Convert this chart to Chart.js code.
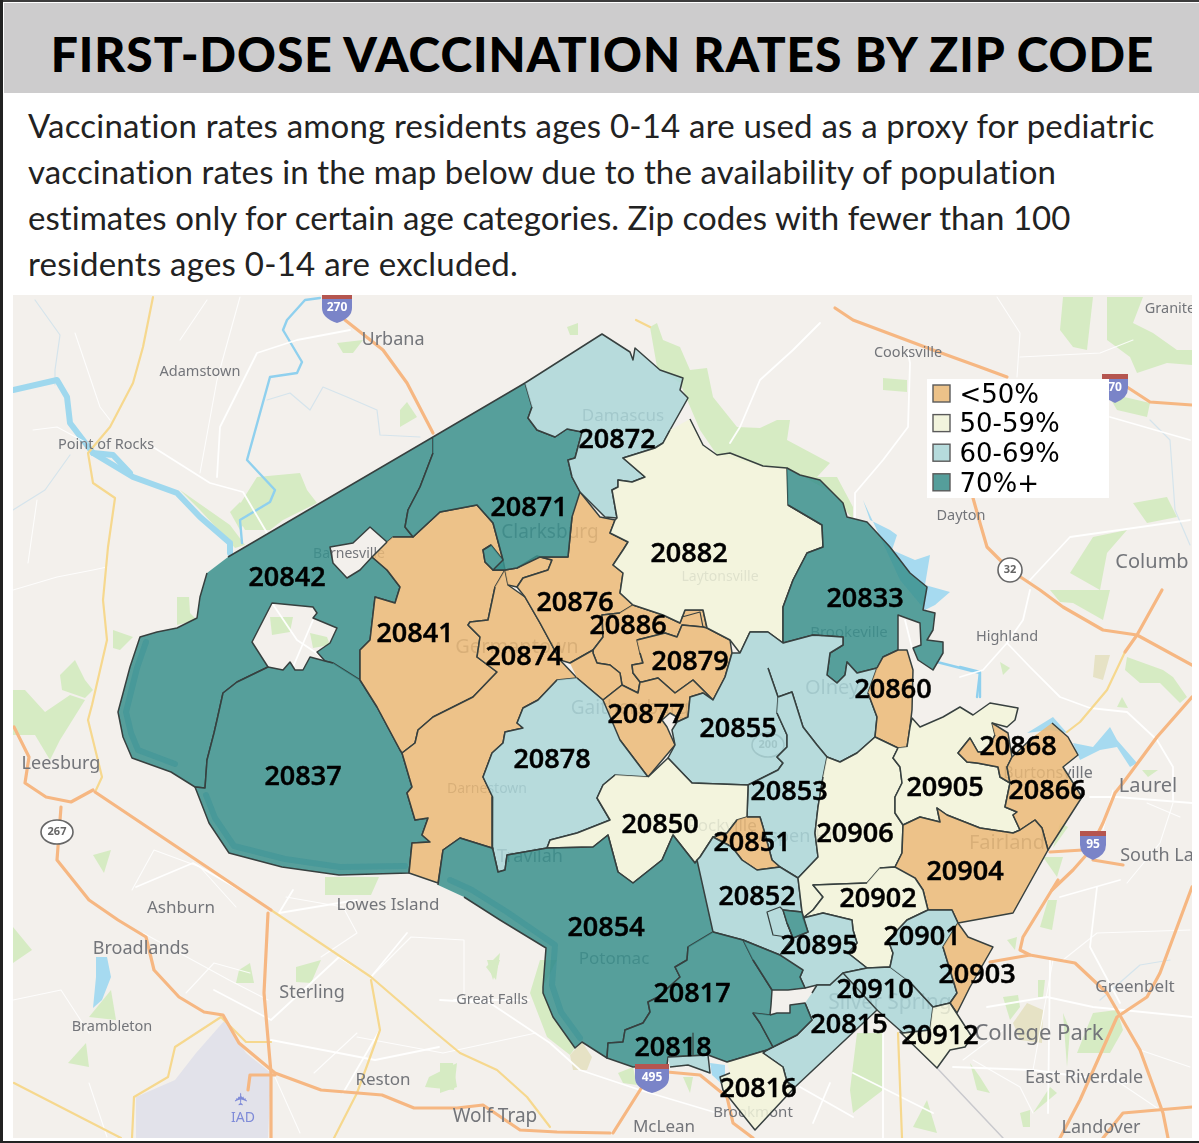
<!DOCTYPE html>
<html>
<head>
<meta charset="utf-8">
<title>First-dose vaccination rates by zip code</title>
<script src="https://cdn.jsdelivr.net/npm/chart.js@4"></script>
<style>
  html, body { margin: 0; padding: 0; background: #fff; overflow: hidden; }
  #page { position: relative; width: 1199px; height: 1143px; background: #fff; }
  #frameTop { position: absolute; left: 0; top: 0; width: 1199px; height: 2px; background: #3c3c3c; }
  #frameLeft { position: absolute; left: 0; top: 0; width: 3px; height: 1143px; background: #222; }
  #frameBottom { position: absolute; left: 0; top: 1141px; width: 1199px; height: 2px; background: #222; }
  #band { position: absolute; left: 4px; top: 3px; width: 1195px; height: 90px; background: #cdcccd; }
  h1 { position: absolute; left: 0; top: 24px; width: 1205px; margin: 0; text-align: center; font: 900 48px Lato, sans-serif; letter-spacing: 0.93px; font-variant-ligatures: none; color: #000; white-space: nowrap; line-height: 60px; }
  #intro { position: absolute; left: 28px; top: 102px; font: 400 33px/46px Lato, sans-serif; font-variant-ligatures: none; color: #222; white-space: nowrap; }
  #intro span { display: block; }
  #mapBox { position: absolute; left: 13px; top: 295px; width: 1179px; height: 843px; }
  #mapChart { display: block; background: #f3f0ec; filter: blur(0.4px); }
</style>
</head>
<body>
<div id="page">
  <div id="band"></div>
  <div id="frameTop"></div>
  <div id="frameLeft"></div>
  <div id="frameBottom"></div>
  <h1>FIRST-DOSE VACCINATION RATES BY ZIP CODE</h1>
  <div id="intro">
    <span style="letter-spacing:.19px">Vaccination rates among residents ages 0-14 are used as a proxy for pediatric</span>
    <span style="letter-spacing:.12px">vaccination rates in the map below due to the availability of population</span>
    <span style="letter-spacing:.05px">estimates only for certain age categories. Zip codes with fewer than 100</span>
    <span style="letter-spacing:.25px">residents ages 0-14 are excluded.</span>
  </div>
  <div id="mapBox"><canvas id="mapChart" width="1179" height="843"></canvas></div>
</div>
<script>
// legend bands
const bandLabels = ['<50%', '50-59%', '60-69%', '70%+'];
const bandFills = ['rgba(235,186,120,.85)', 'rgba(242,245,218,.85)', 'rgba(171,215,217,.85)', 'rgba(57,144,141,.85)'];
const bandSwatches = ['#ecc289', '#f2f4dd', '#b6dbdc', '#559e9b'];

// zip labels
const zipCodes = ['20842','20837','20841','20874','20871','20872','20882','20833','20876','20886','20879','20877','20878','20855','20860','20868','20905','20866','20853','20850','20851','20906','20904','20852','20902','20895','20901','20854','20903','20910','20817','20815','20912','20818','20816'];
const zipX = [287,303,415,524,529,617,689,865,575,628,690,646,552,738,893,1018,945,1047,789,660,752,855,965,757,878,819,922,606,977,875,692,849,940,673,758];
const zipY = [576,775,632,655,506,438,552,597,601,624,660,713,758,727,688,745,786,789,790,823,841,832,870,895,897,944,935,926,973,988,992,1023,1034,1046,1087];

const shapeBands = [3,3,0,3,0,0,0,0,0,0,0,3,2,1,3,2,2,2,2,1,0,2,0,1,1,0,0,0,1,2,2,3,2,3,3,3,3,2,2,0,1,1];
const shapeOutlines = [
  [228,557, 433,437, 433,453, 420,487, 408,510, 405,527, 413,537, 393,537, 387,542, 370,527, 353,543, 330,547, 333,563, 347,578, 360,570, 372,557, 387,570, 400,587, 395,603, 375,597, 370,640, 360,650, 360,680, 333,663, 325,661, 317,652, 330,643, 337,628, 313,618, 317,613, 313,607, 272,603, 252,642, 268,667, 237,682, 223,693, 217,720, 214,733, 207,760, 205,788, 195,787, 171,772, 132,758, 123,737, 118,712, 130,667, 140,637, 157,632, 177,628, 197,618, 200,597, 207,573],
  [360,680, 377,707, 400,750, 402,753, 412,787, 407,793, 415,820, 428,818, 422,835, 430,842, 412,843, 409,873, 339,875, 282,867, 229,853, 209,823, 195,787, 205,788, 207,760, 214,733, 217,720, 223,693, 237,682, 268,667, 283,670, 290,662, 295,670, 303,670, 310,657, 325,661, 333,663],
  [393,537, 413,537, 440,512, 477,505, 493,523, 503,560, 491,545, 483,550, 485,562, 493,570, 505,570, 495,587, 488,620, 470,622, 468,625, 480,637, 477,657, 497,672, 473,697, 433,717, 418,730, 415,743, 402,753, 400,750, 377,707, 360,680, 360,650, 370,640, 375,597, 395,603, 400,587, 387,570, 372,557, 387,542],
  [491,545, 483,550, 485,562, 493,570, 505,570, 503,560],
  [505,570, 508,585, 525,597, 540,623, 560,660, 577,678, 557,680, 538,700, 523,708, 517,723, 523,728, 505,732, 503,743, 492,753, 483,777, 493,797, 492,848, 460,838, 443,850, 438,883, 409,873, 412,843, 430,842, 422,835, 428,818, 415,820, 407,793, 412,787, 402,753, 415,743, 418,730, 433,717, 473,697, 497,672, 477,657, 480,637, 468,625, 470,622, 488,620, 495,587],
  [505,570, 517,568, 537,556, 552,560, 548,570, 523,578, 517,587, 508,585],
  [580,492, 600,517, 615,520, 610,533, 628,542, 623,550, 613,565, 623,573, 620,593, 633,605, 620,613, 602,615, 603,637, 593,650, 570,663, 560,660, 540,623, 525,597, 517,587, 523,578, 548,570, 552,560, 540,557, 568,557, 572,517],
  [633,605, 663,615, 680,623, 685,610, 703,610, 707,628, 703,627, 682,625, 677,637, 665,633, 637,640, 640,653, 643,663, 632,665, 633,673, 640,682, 638,693, 622,685, 620,673, 610,665, 597,663, 593,653, 593,650, 603,637, 602,615, 620,613],
  [637,640, 665,633, 677,637, 682,625, 703,627, 707,628, 730,640, 732,653, 725,677, 713,700, 693,680, 675,693, 658,678, 642,682, 640,682, 633,673, 632,665, 643,663, 640,653],
  [570,663, 593,650, 593,653, 597,663, 610,665, 620,673, 622,685, 603,700, 577,678],
  [603,700, 622,685, 638,693, 640,682, 642,682, 658,678, 675,693, 693,680, 713,700, 703,693, 690,697, 688,717, 677,722, 677,717, 670,713, 662,720, 667,727, 675,745, 648,777, 620,740],
  // 20871
  [433,437, 525,383, 532,407, 528,418, 537,430, 555,437, 567,429, 582,432, 575,458, 568,460, 572,477, 580,492, 572,517, 568,557, 540,557, 517,568, 505,570, 493,570, 503,560, 493,523, 477,505, 440,512, 413,537, 405,527, 408,510, 420,487, 433,453],
  // 20872
  [525,383, 602,334, 630,352, 633,360, 635,348, 660,370, 683,378, 680,390, 688,398, 670,430, 663,443, 655,448, 623,458, 645,477, 632,482, 618,480, 618,487, 612,490, 617,518, 605,517, 580,492, 572,477, 568,460, 575,458, 582,432, 567,429, 555,437, 537,430, 528,418, 532,407],
  // 20882
  [690,419, 703,445, 717,455, 730,453, 763,466, 787,468, 788,505, 822,525, 823,547, 807,553, 793,580, 783,607, 783,643, 768,632, 750,632, 740,653, 730,640, 707,628, 703,610, 685,610, 680,623, 663,615, 633,605, 620,593, 623,573, 613,565, 623,550, 628,542, 610,533, 615,520, 617,518, 612,490, 618,487, 618,480, 632,482, 645,477, 623,458, 655,448, 663,443, 670,430],
  // 20833
  [787,468, 800,475, 820,480, 843,503, 847,517, 867,522, 890,547, 910,573, 927,587, 923,610, 935,613, 933,630, 927,640, 943,642, 943,653, 933,670, 918,660, 913,648, 921,645, 920,623, 898,615, 898,650, 883,657, 877,668, 857,673, 847,662, 845,675, 837,683, 827,675, 830,653, 843,645, 843,637, 813,635, 783,643, 783,607, 793,580, 807,553, 823,547, 822,525, 788,505],
  // olney
  [768,632, 783,643, 813,635, 843,637, 843,645, 830,653, 827,675, 837,683, 845,675, 847,662, 857,673, 877,668, 868,693, 877,717, 875,737, 857,753, 840,762, 827,757, 817,745, 803,727, 792,692, 778,697, 768,668],
  // 20855
  [768,632, 750,632, 740,653, 732,653, 725,677, 713,700, 703,693, 690,697, 688,717, 677,722, 672,730, 675,745, 668,758, 692,783, 748,785, 778,770, 783,763, 777,757, 787,747, 787,735, 777,713, 778,697, 768,668],
  // 20853
  [778,697, 792,692, 803,727, 817,745, 827,757, 823,777, 818,807, 815,833, 818,857, 798,878, 780,867, 772,860, 763,827, 760,817, 747,817, 748,788, 748,785, 778,770, 783,763, 777,757, 787,747, 787,735, 777,713],
  // 20878
  [577,678, 603,700, 620,740, 648,777, 615,775, 603,785, 597,798, 610,820, 577,833, 550,840, 547,848, 507,855, 505,870, 498,872, 493,850, 492,848, 493,797, 483,777, 492,753, 503,743, 505,732, 523,728, 517,723, 523,708, 538,700, 557,680],
  // 20850
  [648,777, 668,758, 692,783, 748,785, 748,788, 747,817, 737,820, 727,833, 713,837, 700,857, 695,863, 673,835, 662,860, 633,883, 618,872, 608,835, 593,847, 547,848, 550,840, 577,833, 610,820, 597,798, 603,785, 615,775],
  // 20851
  [747,817, 760,817, 763,827, 772,860, 780,867, 757,870, 742,860, 732,847, 713,837, 727,833, 737,820],
  // 20852
  [697,860, 700,857, 713,837, 732,847, 742,860, 757,870, 780,867, 798,878, 802,912, 783,910, 787,923, 793,938, 780,955, 743,940, 713,932],
  // 20860
  [877,668, 883,657, 898,650, 907,650, 913,670, 912,710, 910,727, 907,747, 898,748, 875,737, 877,717, 868,693],
  // 20906
  [827,757, 840,762, 857,753, 875,737, 898,748, 893,758, 900,767, 902,783, 895,797, 895,813, 903,825, 902,853, 895,867, 880,868, 867,883, 813,885, 823,897, 813,910, 803,918, 802,912, 798,878, 818,857, 815,833, 818,807, 823,777],
  // 20905
  [907,747, 910,727, 912,718, 920,727, 943,717, 960,707, 973,715, 990,703, 1018,708, 1015,720, 1007,727, 992,723, 995,735, 990,745, 985,752, 978,752, 970,738, 958,753, 967,762, 977,763, 998,767, 1000,777, 1010,783, 1005,807, 1017,812, 1013,815, 1020,830, 1013,833, 980,828, 947,815, 937,808, 940,822, 920,817, 903,825, 895,813, 895,797, 902,783, 900,767, 893,758, 898,748],
  // 20868
  [992,723, 1008,733, 1012,757, 1007,767, 1010,783, 1000,777, 998,767, 977,763, 967,762, 958,753, 970,738, 978,752, 985,752, 990,745, 995,735],
  // 20866
  [1052,723, 1068,737, 1078,755, 1063,767, 1082,797, 1048,850, 1042,828, 1035,820, 1020,830, 1013,815, 1017,812, 1005,807, 1010,783, 1007,767, 1012,757, 1033,737],
  // 20904
  [895,867, 902,853, 903,825, 920,817, 940,822, 937,808, 947,815, 980,828, 1013,833, 1020,830, 1035,820, 1042,828, 1048,850, 1013,913, 958,923, 952,910, 928,910, 923,890, 915,878],
  // 20902
  [880,868, 895,867, 915,878, 923,890, 928,910, 907,920, 888,940, 893,953, 890,967, 867,968, 848,953, 857,943, 853,930, 852,920, 823,913, 803,918, 813,910, 823,897, 813,885, 867,883],
  // 20895
  [780,955, 793,938, 808,932, 803,918, 823,913, 852,920, 853,930, 857,943, 848,953, 867,968, 843,973, 830,985, 817,985, 805,988, 800,977, 803,970],
  // 20910
  [843,973, 867,968, 890,967, 910,982, 933,1007, 930,1030, 903,1033, 877,1010],
  // sliver by 20852
  [783,910, 802,912, 808,932, 793,938, 787,923],
  // 20815
  [812,993, 817,985, 830,985, 843,973, 877,1010, 795,1087, 787,1082, 783,1067, 763,1053, 767,1050, 773,1047, 797,1035, 812,1020, 805,1003],
  // 20854
  [438,885, 443,850, 460,838, 492,848, 493,850, 498,872, 505,870, 507,855, 547,848, 593,847, 608,835, 618,872, 633,883, 662,860, 673,835, 695,863, 697,860, 713,932, 688,947, 687,960, 675,967, 680,977, 658,997, 648,1002, 650,1012, 643,1023, 625,1030, 623,1042, 608,1043, 607,1058, 582,1042, 575,1048, 553,1017, 543,993, 543,987, 546,948, 500,920, 464,897],
  // 20817
  [713,932, 743,940, 753,960, 772,990, 771,1005, 770,1015, 753,1013, 760,1023, 773,1047, 767,1050, 727,1062, 708,1055, 668,1057, 667,1065, 633,1067, 607,1058, 608,1043, 623,1042, 625,1030, 643,1023, 650,1012, 648,1002, 658,997, 680,977, 675,967, 687,960, 688,947],
  // north of the gap
  [743,940, 780,955, 803,970, 800,977, 805,988, 788,990, 772,990, 753,960],
  // south of the gap
  [770,1015, 777,1013, 790,1013, 790,1005, 805,1003, 812,1020, 797,1035, 773,1047, 760,1023, 753,1013],
  // 20818
  [668,1057, 708,1055, 710,1073, 688,1065, 670,1067],
  // 20901
  [890,967, 893,953, 888,940, 907,920, 928,910, 952,910, 958,923, 943,947, 957,993, 950,1003, 933,1007, 910,982],
  // 20903
  [958,923, 968,937, 993,947, 970,987, 957,1013, 950,1003, 957,993, 943,947],
  // 20912
  [933,1007, 950,1003, 972,1037, 965,1047, 950,1050, 937,1068, 900,1032, 903,1033, 930,1030],
  // 20816
  [727,1062, 767,1050, 763,1053, 783,1067, 787,1082, 795,1087, 755,1130, 723,1090, 720,1077, 730,1073]
];
// line-only borders inside a zip area
const innerBorders = [
  [767,912, 780,907, 783,910, 787,923, 793,938, 773,935, 767,912],
  [682,617, 700,612, 703,627],
  [693,1033, 693,1055]
];
// darker band where the river runs under the teal areas
const riverTint = [
  [206,795, 215,818, 234,846, 285,859, 340,867, 405,866],
  [450,880, 472,890, 507,912, 555,945, 552,985, 561,1012, 580,1038],
  [146,642, 137,668, 126,712, 131,733, 138,750, 175,764]
];

// base map
const parks = [
  [337,343, 363,340, 353,353, 343,353], [400,410, 407,402, 417,417, 400,427],
  [257,477, 300,473, 307,490, 317,503, 283,520, 270,530, 245,530, 235,512], [230,512, 240,502, 250,515, 240,530],
  [180,490, 230,525, 245,545, 235,548, 200,510], [177,597, 189,597, 190,613, 197,620, 177,625],
  [113,630, 133,637, 120,650, 113,648], [13,690, 25,690, 45,712, 70,695, 85,700, 60,740, 50,760, 35,735, 13,735],
  [60,675, 75,660, 85,680, 93,690, 85,698, 62,690], [270,617, 293,617, 290,632, 272,635], [310,633, 327,637, 330,645, 313,648],
  [650,327, 657,323, 663,340, 680,347, 690,370, 707,368, 713,397, 737,427, 760,428, 777,420, 790,420, 787,440, 830,463, 817,477, 837,477, 853,507, 853,520, 833,493, 787,468, 763,466, 717,455, 700,430, 680,383, 657,367],
  [567,327, 578,323, 578,335, 570,335], [883,378, 907,380, 907,392, 883,390],
  [1063,297, 1093,297, 1087,350, 1073,347, 1060,330], [1107,297, 1143,297, 1133,323, 1153,333, 1177,350, 1192,350, 1192,365, 1167,363, 1137,373, 1130,357, 1107,340, 1107,310],
  [1107,393, 1150,403, 1147,417, 1117,410], [1133,503, 1167,497, 1177,517, 1147,523], [1070,573, 1093,537, 1127,530, 1107,553, 1100,590],
  [1127,657, 1163,670, 1173,677, 1187,697, 1180,703, 1160,683, 1140,683, 1125,670], [1000,662, 1010,668, 1003,675], [1117,707, 1122,697, 1128,708], [1142,770, 1158,770, 1148,777],
  [1050,590, 1110,590, 1103,620, 1073,603, 1060,602], [1060,823, 1068,827, 1053,848], [1043,857, 1063,857, 1057,877],
  [1048,900, 1057,900, 1052,930, 1040,927], [1007,940, 1017,937, 1015,950], [1038,980, 1045,980, 1043,997, 1038,997], [1003,997, 1018,995, 1020,1007, 1010,1020],
  [1093,1013, 1117,1010, 1123,1030, 1110,1053, 1077,1053], [970,1063, 980,1077, 990,1093, 977,1090], [1050,1087, 1057,1093, 1033,1113], [1020,1113, 1030,1110, 1030,1127, 1023,1127], [1063,1013, 1070,1030, 1067,1067],
  [857,1033, 883,1033, 883,1090, 853,1113, 850,1090], [913,1127, 927,1100, 937,1133],
  [540,960, 557,960, 543,987, 553,1017, 575,1048, 570,1055, 547,1037, 530,993], [618,1073, 633,1067, 637,1085, 623,1083], [683,1077, 693,1077, 690,1093], [440,1063, 453,1063, 457,1087, 440,1093], [487,960, 500,960, 493,980],
  [93,855, 111,850, 104,873], [296,967, 321,960, 311,983, 296,982], [239,970, 250,963, 254,983, 236,983], [325,877, 379,877, 371,895, 325,895], [486,967, 500,953, 496,980],
  [429,1077, 457,1063, 454,1090, 425,1087], [68,1063, 86,1043, 89,1067], [13,927, 32,950, 13,963], [89,1017, 111,990, 116,1020]
];
const tanAreas = [
  [1013,1023, 1027,1003, 1043,1010, 1042,1043, 1020,1040], [570,1055, 582,1042, 592,1057, 587,1070, 573,1070], [1095,655, 1110,655, 1103,680, 1093,677]
];
const airportAreas = [[136,1138, 136,1097, 175,1080, 196,1053, 225,1020, 246,1053, 271,1073, 268,1138]];
const waterAreas = [
  [96,957, 107,957, 111,977, 102,1000, 93,1008, 96,977],
  [1073,743, 1093,747, 1110,727, 1117,740, 1137,763, 1130,767, 1117,747, 1100,750, 1080,760],
  [1027,733, 1053,717, 1067,733, 1050,730],
  [863,500, 870,520, 890,530, 897,535, 892,550, 915,560, 930,555, 925,585, 950,592, 935,605, 925,610, 900,580],
  [710,1063, 725,1065, 725,1077, 723,1085, 712,1075]
];
const rivers = [
  [13,390, 57,380, 67,397, 70,423, 93,453, 133,477, 177,493, 200,517, 230,543, 230,553],
  [93,453, 113,455, 130,473]
];
const streams = [
  [320,298, 305,300, 287,320, 283,330, 302,362, 297,373, 270,377, 247,460, 275,490, 270,502, 240,520, 242,543],
  [937,662, 980,673, 980,697], [960,667, 980,672, 977,697]
];
const faintStreams = [
  [267,400, 290,393, 310,410, 323,387, 347,397, 377,410, 380,435, 420,437], [35,300, 60,335, 55,370, 55,385],
  [13,510, 45,490, 70,455], [1150,420, 1170,440, 1175,510, 1190,545], [1100,1000, 1140,965, 1170,960]
];
const orangeRoads = [
  [345,320, 383,350, 407,383, 433,433],
  [835,308, 853,320, 933,350, 980,367, 1007,377], [1127,387, 1150,402, 1192,405],
  [973,498, 980,523, 987,547, 1010,570, 1040,590, 1063,607, 1103,630, 1137,635, 1192,665],
  [1162,590, 1137,635, 1125,652], [1192,697, 1157,737, 1123,783, 1115,793, 1103,823, 1088,853, 1073,870, 1052,890],
  [1050,852, 1083,850], [1093,860, 1123,865],
  [1058,880, 1023,937, 1020,950, 1030,955, 1075,963, 1107,993, 1140,1050, 1163,1113, 1168,1138], [1030,955, 990,962],
  [1192,887, 1160,973, 1147,997, 1117,1017, 1080,1100, 1060,1138], [1192,1107, 1123,1113, 1103,1138],
  [14,727, 29,757, 25,783, 46,797, 71,802, 93,790], [95,792, 271,910],
  [61,807, 57,860, 89,900, 118,920, 146,937, 154,970, 179,997, 204,1012, 223,1015, 239,1043, 275,1073, 321,1090, 382,1095, 414,1108, 457,1108, 483,1105, 520,1130, 557,1132, 610,1133],
  [642,1087, 613,1133], [667,1072, 700,1075, 727,1097, 733,1123, 753,1138], [268,913, 264,993, 271,1073, 271,1138], [248,1090, 250,1075, 275,1075]
];
const yellowRoads = [
  [153,297, 143,347, 133,383, 110,427, 88,453, 93,483, 115,498, 108,547, 103,600, 107,640, 92,705, 88,720, 102,777, 96,790],
  [271,910, 371,977, 436,1033, 460,1053, 497,1070, 527,1097, 550,1127],
  [14,1083, 121,1138], [132,1138, 134,1097, 168,1077, 175,1047, 221,1017, 246,1042, 271,1042],
  [334,1138, 357,1093, 380,1030, 371,980], [1125,652, 1107,690, 1080,722, 1067,732], [898,1033, 902,1138], [636,320, 650,327]
];
const whiteRoads = [
  [153,447, 210,483, 243,492, 267,533], [217,477, 220,427, 257,353, 297,340, 350,330], [272,603, 297,640, 327,660], [313,620, 293,667],
  [908,353, 910,363, 908,427, 883,460, 855,493, 855,520], [820,323, 793,350, 760,380, 740,427, 730,443], [905,620, 912,648],
  [1030,590, 1023,620, 1007,643, 983,670, 960,677], [1007,643, 1030,667, 1060,697, 1090,708, 1127,712, 1157,740, 1173,767, 1173,800],
  [1090,797, 1117,797, 1192,803], [1050,960, 1048,1113], [987,1007, 1047,997, 1093,1007, 1192,1017], [953,1067, 1033,1070, 1127,1083],
  [1060,897, 1120,880], [1097,887, 1090,947, 1120,1003], [883,1033, 883,1138], [800,1087, 853,1117], [830,1083, 813,1123], [853,1073, 933,1113],
  [136,887, 193,863, 257,900], [214,990, 271,1020, 339,957, 371,977], [407,933, 371,977], [454,1000, 529,1000], [440,1000, 490,1003, 550,1043, 580,1070, 640,1090, 717,1113],
  [293,890, 279,913, 357,900], [271,1040, 375,1060, 439,1047], [343,1093, 380,1030], [1110,417, 1190,440], [1030,580, 1070,537, 1190,520]
];
const minorRoads = [
  [132,890, 154,850, 200,867, 236,907], [143,933, 229,980, 268,1000], [186,993, 214,963, 250,973], [286,897, 343,907, 357,933, 321,957],
  [371,977, 411,937, 464,940, 464,1000], [357,1037, 443,1053, 536,1033], [275,1077, 300,1133], [314,1073, 357,1033], [13,1000, 61,990, 89,1033], [89,1083, 107,1137],
  [963,1060, 1003,1030], [973,1060, 1020,1087, 1033,1113], [1033,1070, 1053,960], [1063,960, 1097,933, 1190,930], [1140,1050, 1190,1067], [1120,1083, 1160,1110],
  [1173,803, 1160,843, 1127,883], [1147,803, 1180,817], [1103,830, 1113,790], [1020,357, 1100,353, 1133,340], [997,297, 1020,333, 1017,377],
  [33,430, 57,427, 87,443], [200,473, 217,380, 240,297], [180,340, 207,300], [75,333, 100,407, 110,420], [13,590, 57,577, 93,570, 107,567], [37,500, 28,563]
];
const railLines = [[937,1068, 1003,1138]];

// place names, drawn under the zip areas
const placeNames = ['Urbana','Adamstown','Point of Rocks','Cooksville','Granite','Dayton','Highland','Columb','Leesburg','Laurel','South La','Ashburn','Lowes Island','Broadlands','Sterling','Great Falls','Greenbelt','Brambleton','College Park','East Riverdale','Reston','Wolf Trap','McLean','Landover','Brookmont','Damascus','Clarksburg','Barnesville','Germantown','Laytonsville','Brookeville','Olney','Gaithersburg','Darnestown','Travilah','Potomac','Rockville','Aspen Hill','Silver Spring','Burtonsville','Fairland'];
const placeX = [393,200,106,908,1170,961,1007,1152,61,1148,1157,181,388,141,312,492,1135,112,1039,1084,383,495,664,1101,753,623,550,349,517,720,849,832,630,487,530,614,722,800,890,1048,1007];
const placeY = [340,372,445,353,309,516,637,562,764,786,856,908,905,949,993,1000,987,1027,1034,1078,1080,1117,1127,1128,1113,416,533,554,647,577,633,688,709,789,857,959,826,837,1003,773,843];
const placeSizes = [18,14.5,14.5,14.5,14.5,14.5,14.5,20,18,20,18,17,17,18,18,14.5,17,14.5,22,18,17,19,17,18,15,17,19,14,20,14,15,20,19,14,18,17,17,18,21,16,20];

// road markers
const shieldNames = ['270','70','95','495'];
const shieldX = [337,1115,1093,652];
const shieldY = [306,386,843,1076];
const shieldWidths = [30,26,26,34];
const routeNames = ['32','267','200'];
const routeX = [1010,57,768];
const routeY = [570,832,745];

const toPoints = run => {
  const pts = [];
  for (let i = 0; i < run.length; i += 2) pts.push({ x: run[i], y: run[i + 1] });
  return pts;
};

const datasets = [];
const addArea = (run, color) => datasets.push({ data: toPoints(run), showLine: true, pointRadius: 0, borderWidth: 0, borderColor: color, backgroundColor: color, fill: 'shape' });
const addLine = (run, color, width) => datasets.push({ data: toPoints(run), showLine: true, pointRadius: 0, borderWidth: width, borderColor: color, borderJoinStyle: 'round', borderCapStyle: 'round', backgroundColor: 'transparent', fill: false });

// paint order: base map first
airportAreas.forEach(a => addArea(a, '#e2e2ea'));
parks.forEach(a => addArea(a, '#d6ebc3'));
tanAreas.forEach(a => addArea(a, '#e6e2c5'));
waterAreas.forEach(a => addArea(a, '#a6daf0'));
faintStreams.forEach(l => addLine(l, '#d5e4ec', 1.2));
streams.forEach(l => addLine(l, '#8fd0ee', 2.4));
rivers.forEach(l => addLine(l, '#9fd8ee', 6));
minorRoads.forEach(l => addLine(l, 'rgba(255,255,255,.85)', 1.1));
whiteRoads.forEach(l => addLine(l, 'rgba(255,255,255,.95)', 1.8));
railLines.forEach(l => addLine(l, '#c9c9cd', 1.5));
yellowRoads.forEach(l => addLine(l, '#f6d88e', 2.2));
orangeRoads.forEach(l => addLine(l, '#f6b782', 3.2));
const lastBaseIndex = datasets.length - 1;

shapeOutlines.forEach((run, i) => {
  datasets.push({ data: toPoints(run), showLine: true, pointRadius: 0, borderWidth: 1.5, borderColor: '#37403f', borderJoinStyle: 'round', backgroundColor: bandFills[shapeBands[i]], fill: 'shape' });
});
riverTint.forEach(l => addLine(l, 'rgba(30,130,145,.25)', 6));
innerBorders.forEach(l => addLine(l, '#37403f', 1.2));
// lower order sits on top in Chart.js
datasets.forEach((d, i) => { d.order = datasets.length - i; });

const mapLayers = {
  id: 'mapLayers',
  afterDatasetDraw(chart, args) {
    if (args.index !== lastBaseIndex) return;
    const { ctx, scales: { x, y } } = chart;
    ctx.save();
    ctx.textAlign = 'center';
    ctx.textBaseline = 'middle';
    routeNames.forEach((name, i) => {
      const px = x.getPixelForValue(routeX[i]), py = y.getPixelForValue(routeY[i]);
      ctx.beginPath();
      ctx.ellipse(px, py, name.length > 2 ? 16 : 12, 12, 0, 0, Math.PI * 2);
      ctx.fillStyle = '#fff';
      ctx.fill();
      ctx.lineWidth = 1.6;
      ctx.strokeStyle = '#666';
      ctx.stroke();
      ctx.fillStyle = '#666';
      ctx.font = '700 11px "Noto Sans"';
      ctx.fillText(name, px, py);
    });
    placeNames.forEach((name, i) => {
      ctx.font = placeSizes[i] + 'px "Noto Sans"';
      ctx.fillStyle = '#73757a';
      ctx.fillText(name, x.getPixelForValue(placeX[i]), y.getPixelForValue(placeY[i]));
    });
    // airport
    ctx.fillStyle = '#7f8bd8';
    ctx.font = '14px "Noto Sans"';
    ctx.fillText('IAD', x.getPixelForValue(243), y.getPixelForValue(1118));
    ctx.translate(x.getPixelForValue(243), y.getPixelForValue(1099));
    ctx.rotate(-Math.PI / 2);
    ctx.font = '17px "DejaVu Sans"';
    ctx.fillText('\u2708', 0, 0);
    ctx.restore();
  },
  afterDatasetsDraw(chart) {
    const { ctx, scales: { x, y } } = chart;
    ctx.save();
    ctx.textAlign = 'center';
    ctx.textBaseline = 'middle';
    // interstate shields
    shieldNames.forEach((name, i) => {
      const px = x.getPixelForValue(shieldX[i]), py = y.getPixelForValue(shieldY[i]), w = shieldWidths[i] / 2;
      ctx.beginPath();
      ctx.moveTo(px - w, py - 11);
      ctx.lineTo(px + w, py - 11);
      ctx.lineTo(px + w, py + 2);
      ctx.quadraticCurveTo(px + w, py + 12, px, py + 17);
      ctx.quadraticCurveTo(px - w, py + 12, px - w, py + 2);
      ctx.closePath();
      ctx.fillStyle = '#7a84c8';
      ctx.fill();
      ctx.fillStyle = '#b5554f';
      ctx.fillRect(px - w, py - 12, w * 2, 5);
      ctx.fillStyle = '#fff';
      ctx.font = '700 12px "Noto Sans"';
      ctx.fillText(name, px, py + 2);
    });
    // zip labels
    ctx.fillStyle = '#000';
    ctx.strokeStyle = '#000';
    ctx.lineWidth = 0.5;
    ctx.font = '600 27px "Open Sans"';
    zipCodes.forEach((code, i) => {
      const px = x.getPixelForValue(zipX[i]), py = y.getPixelForValue(zipY[i]) + 2;
      ctx.fillText(code, px, py);
      ctx.strokeText(code, px, py);
    });
    // legend
    const lx = x.getPixelForValue(927), ly = y.getPixelForValue(379);
    ctx.fillStyle = '#fff';
    ctx.fillRect(lx, ly, 182, 119);
    ctx.textAlign = 'left';
    ctx.font = '26px "DejaVu Sans"';
    bandLabels.forEach((label, i) => {
      const top = ly + 6 + i * 29.6;
      ctx.fillStyle = bandSwatches[i];
      ctx.fillRect(lx + 6, top, 17, 17);
      ctx.strokeStyle = '#5a5a5a';
      ctx.lineWidth = 1.4;
      ctx.strokeRect(lx + 6, top, 17, 17);
      ctx.fillStyle = '#000';
      ctx.fillText(label, lx + 32.5, top + 11);
    });
    ctx.restore();
  }
};

new Chart(document.getElementById('mapChart').getContext('2d'), {
  type: 'scatter',
  data: { datasets },
  plugins: [mapLayers],
  options: {
    responsive: false,
    animation: false,
    events: [],
    layout: { padding: 0 },
    elements: { line: { tension: 0 } },
    scales: {
      x: { type: 'linear', display: false, min: 13, max: 1192 },
      y: { type: 'linear', display: false, min: 295, max: 1138, reverse: true }
    },
    plugins: { legend: { display: false }, tooltip: { enabled: false }, title: { display: false } }
  }
});
</script>
</body>
</html>
